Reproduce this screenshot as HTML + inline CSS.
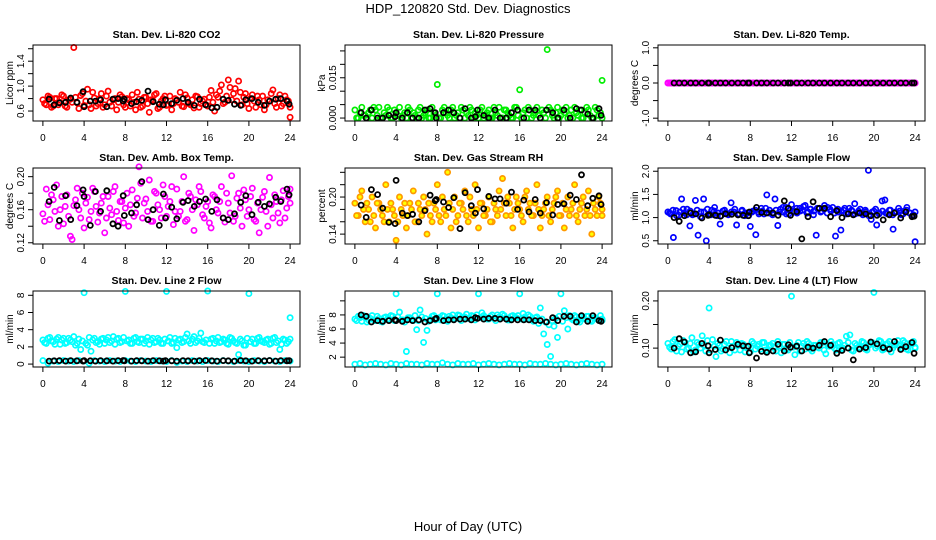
<!DOCTYPE html>
<html><head><meta charset="utf-8"><title>HDP_120820 Std. Dev. Diagnostics</title>
<style>
html,body{margin:0;padding:0;background:#fff;}
svg{display:block;font-family:"Liberation Sans",Arial,sans-serif;}
</style></head>
<body>
<svg id="chart" width="936" height="540" viewBox="0 0 936 540" xmlns="http://www.w3.org/2000/svg">
<text x="468" y="13" font-size="13" text-anchor="middle">HDP_120820  Std. Dev. Diagnostics</text>
<text x="468" y="531" font-size="13" text-anchor="middle">Hour of Day (UTC)</text>
</svg>
<script>
// ---- data ----
const blackHours = [0.6,1.1,1.6,2.2,2.7,3.3,3.9,4.0,4.6,5.1,5.6,6.2,6.8,7.3,7.8,7.9,8.6,9.1,9.6,10.2,10.7,11.3,11.7,11.9,12.5,13.0,13.6,14.1,14.7,15.2,15.8,16.4,16.9,17.5,18.0,18.6,19.2,19.7,20.3,20.9,21.5,22.0,22.6,23.1,23.7,23.9];
const xTicks = [0,4,8,12,16,20,24];

const co2Vals = [0.78,0.70,0.82,0.68,0.80,0.74,0.84,0.66,0.79,1.62,0.73,0.85,0.69,0.95,0.64,0.81,0.72,0.88,0.70,0.92,0.68,0.80,0.74,0.83,0.66,0.78,0.86,0.62,0.79,0.68,0.82,0.58,0.77,0.88,0.66,0.80,0.69,0.84,0.72,0.78,0.90,0.67,0.81,0.70,0.65,0.83,0.72,0.79,0.68,0.93,0.60,0.82,1.02,0.74,1.10,0.78,0.96,1.08,0.70,0.88,0.64,0.86,0.66,0.78,0.84,0.70,0.76,0.94,0.66,0.86,0.72,0.78,0.50];
const co2ValsB = [0.72,0.84,0.66,0.80,0.70,0.86,0.68,0.78,0.74,0.82,0.64,0.88,0.76,0.70,0.90,0.68,0.80,0.66,0.84,0.74,0.78,0.62,0.86,0.70,0.80,0.68,0.74,0.90,0.66,0.82,0.72,0.78,0.86,0.64,0.76,0.84,0.70,0.62,0.80,0.74,0.68,0.86,0.72,0.78,0.84,0.66,0.76,0.70,0.82,0.74,0.86,0.92,0.72,0.84,0.98,0.88,0.76,0.90,0.82,0.72,0.80,0.76,0.84,0.70,0.62,0.78,0.88,0.72,0.80,0.68,0.84,0.76,0.66];
const co2Black = [0.79,0.70,0.73,0.74,0.81,0.74,0.91,0.67,0.76,0.76,0.78,0.67,0.79,0.80,0.76,0.79,0.72,0.75,0.77,0.92,0.75,0.71,0.70,0.78,0.72,0.77,0.80,0.74,0.69,0.79,0.70,0.65,0.66,0.79,0.77,0.71,0.69,0.78,0.80,0.74,0.69,0.76,0.79,0.80,0.76,0.71];
const co2Ticks = [0.6,0.8,1.0,1.2,1.4,1.6];
const co2Labels = ["0.6","","1.0","","1.4",""];

const presVals = [0.003,0,0.004,0.001,0.002,0,0.003,0.004,0,0.001,0.003,0,0.002,0.004,0.001,0,0.003,0.002,0,0.004,0.001,0.003,0,0.002,0.0125,0,0.004,0.001,0.003,0,0.002,0.004,0,0.001,0.003,0.002,0,0.004,0.001,0.003,0,0.002,0.004,0,0.003,0.001,0,0.004,0.0105,0.002,0,0.003,0.001,0.004,0,0.002,0.0255,0.003,0,0.004,0.001,0.002,0,0.003,0.004,0.001,0,0.002,0.003,0,0.004,0.001,0.014];
const presValsB = [0,0.002,0.001,0,0.003,0.004,0.001,0,0.002,0.004,0,0.003,0.001,0,0.002,0.004,0,0.001,0.003,0,0.002,0,0.004,0.001,0,0.003,0.002,0,0.004,0.001,0,0.003,0.002,0.004,0,0.001,0.003,0,0.002,0,0.004,0.001,0,0.003,0.002,0,0.004,0.001,0,0.003,0.004,0,0.002,0.001,0.003,0,0.004,0.001,0.002,0,0.003,0.004,0.001,0,0.002,0.003,0,0.004,0.001,0,0.003,0.002,0];
const presBlack = [0.002,0,0.003,0,0,0.001,0.0005,0.002,0,0.002,0,0,0.003,0.0035,0.002,0,0.002,0.003,0.002,0,0.0035,0,0.0005,0.003,0.001,0,0.003,0,0,0.002,0.003,0,0.003,0.003,0,0.003,0.002,0,0.003,0,0.0035,0.003,0.0015,0,0.0035,0.001];
const presTicks = [0,0.005,0.010,0.015,0.020,0.025];
const presLabels = ["0.000","","","0.015","",""];

const tempVals = [0,0,0,0,0,0,0,0,0,0,0,0,0,0,0,0,0,0,0,0,0,0,0,0,0,0,0,0,0,0,0,0,0,0,0,0,0,0,0,0,0,0,0,0,0,0,0,0,0,0,0,0,0,0,0,0,0,0,0,0,0,0,0,0,0,0,0,0,0,0,0,0,0];
const tempValsB = [0,0,0,0,0,0,0,0,0,0,0,0,0,0,0,0,0,0,0,0,0,0,0,0,0,0,0,0,0,0,0,0,0,0,0,0,0,0,0,0,0,0,0,0,0,0,0,0,0,0,0,0,0,0,0,0,0,0,0,0,0,0,0,0,0,0,0,0,0,0,0,0];
const tempBlack = [0,0,0,0,0,0,0,0,0,0,0,0,0,0,0,0,0,0,0,0,0,0,0,0,0,0,0,0,0,0,0,0,0,0,0,0,0,0,0,0,0,0,0,0,0,0];
const tempTicks = [-1,-0.5,0,0.5,1];
const tempLabels = ["-1.0","","0.0","","1.0"];

const ambVals = [0.155,0.185,0.148,0.172,0.190,0.160,0.143,0.178,0.128,0.165,0.186,0.150,0.138,0.175,0.158,0.182,0.145,0.168,0.132,0.176,0.154,0.188,0.147,0.170,0.162,0.140,0.184,0.156,0.212,0.150,0.173,0.196,0.146,0.180,0.160,0.190,0.152,0.170,0.142,0.185,0.158,0.200,0.148,0.176,0.135,0.166,0.182,0.150,0.170,0.138,0.176,0.156,0.188,0.145,0.168,0.201,0.152,0.180,0.140,0.172,0.160,0.186,0.146,0.132,0.175,0.158,0.199,0.150,0.170,0.144,0.183,0.162,0.185];
const ambValsB = [0.146,0.166,0.178,0.158,0.140,0.176,0.164,0.152,0.124,0.172,0.160,0.180,0.168,0.148,0.186,0.164,0.156,0.176,0.150,0.162,0.182,0.158,0.170,0.144,0.180,0.166,0.152,0.174,0.192,0.168,0.158,0.146,0.182,0.166,0.150,0.176,0.164,0.188,0.158,0.152,0.170,0.146,0.180,0.160,0.172,0.188,0.154,0.164,0.144,0.178,0.160,0.170,0.150,0.180,0.156,0.146,0.174,0.162,0.184,0.152,0.176,0.148,0.168,0.160,0.182,0.140,0.166,0.178,0.156,0.172,0.150,0.176,0.168];
const ambBlack = [0.170,0.187,0.147,0.177,0.148,0.165,0.184,0.176,0.141,0.182,0.158,0.183,0.143,0.140,0.177,0.153,0.156,0.166,0.194,0.148,0.160,0.141,0.179,0.150,0.163,0.149,0.169,0.171,0.164,0.170,0.173,0.158,0.172,0.150,0.148,0.155,0.169,0.177,0.154,0.169,0.164,0.167,0.175,0.170,0.185,0.178];
const ambTicks = [0.12,0.14,0.16,0.18,0.20];
const ambLabels = ["0.12","","0.16","","0.20"];

const rhVals = [0.19,0.17,0.21,0.16,0.18,0.20,0.15,0.19,0.17,0.22,0.16,0.18,0.13,0.20,0.17,0.15,0.19,0.21,0.16,0.18,0.20,0.14,0.17,0.19,0.22,0.16,0.18,0.24,0.15,0.20,0.17,0.19,0.21,0.16,0.18,0.22,0.15,0.19,0.17,0.20,0.16,0.18,0.21,0.23,0.17,0.19,0.15,0.20,0.18,0.16,0.21,0.19,0.17,0.22,0.15,0.18,0.20,0.16,0.19,0.21,0.17,0.15,0.20,0.18,0.22,0.16,0.19,0.17,0.21,0.14,0.18,0.20,0.17];
const rhValsB = [0.17,0.20,0.18,0.19,0.16,0.17,0.19,0.18,0.16,0.18,0.19,0.17,0.16,0.18,0.19,0.17,0.18,0.16,0.19,0.17,0.18,0.19,0.16,0.18,0.17,0.20,0.17,0.19,0.18,0.16,0.19,0.18,0.17,0.20,0.17,0.18,0.19,0.17,0.18,0.16,0.19,0.17,0.18,0.19,0.20,0.17,0.18,0.19,0.17,0.20,0.18,0.17,0.19,0.18,0.17,0.19,0.17,0.18,0.20,0.17,0.19,0.18,0.17,0.19,0.17,0.18,0.20,0.18,0.17,0.19,0.17,0.19,0.18];
const rhBlack = [0.187,0.167,0.212,0.204,0.182,0.159,0.157,0.227,0.174,0.170,0.172,0.160,0.178,0.203,0.194,0.196,0.192,0.183,0.199,0.149,0.207,0.186,0.174,0.212,0.181,0.201,0.197,0.197,0.190,0.208,0.180,0.195,0.176,0.196,0.174,0.191,0.171,0.188,0.189,0.203,0.196,0.236,0.186,0.198,0.202,0.188];
const rhTicks = [0.14,0.16,0.18,0.20,0.22,0.24];
const rhLabels = ["0.14","","","0.20","",""];

const sampleVals = [1.12,1.08,0.57,1.15,1.05,1.40,1.10,1.18,0.82,1.06,1.37,0.62,1.12,1.40,0.50,1.08,1.16,1.22,1.04,0.86,1.14,1.10,1.06,1.32,1.12,0.84,1.08,1.16,1.04,1.10,0.81,1.14,0.63,1.12,1.20,1.08,1.49,1.16,1.10,1.40,0.83,1.18,1.12,1.22,1.08,1.28,1.14,1.10,1.20,1.16,1.26,1.12,1.18,1.06,0.62,1.20,1.14,1.26,1.10,1.18,1.22,0.60,1.12,0.73,1.16,1.08,1.20,1.14,1.30,1.10,1.18,1.06,1.12,2.02,0.96,1.14,0.84,1.10,1.36,1.38,1.08,1.16,0.75,1.12,1.20,1.06,1.14,1.22,1.10,1.04,0.48];
const sampleValsB = [1.10,1.16,1.04,1.12,1.18,1.06,1.14,1.08,1.16,1.02,1.12,1.18,1.06,1.14,1.10,1.04,1.16,1.08,1.12,1.18,1.06,1.14,1.10,1.04,1.12,1.16,1.08,1.14,1.20,1.10,1.06,1.16,1.12,1.22,1.08,1.16,1.12,1.20,1.14,1.24,1.10,1.18,1.14,1.20,1.12,1.18,1.22,1.14,1.10,1.18,1.14,1.20,1.12,1.16,1.08,1.14,1.10,1.16,1.04,1.12,1.18,1.08,1.14,1.10,1.16,1.06,1.12,1.14,1.08,1.16,1.10,1.06,1.12];
const sampleBlack = [1.00,0.92,1.04,1.10,1.08,0.99,1.05,1.06,1.05,1.03,1.08,1.07,1.06,1.05,1.04,1.12,1.22,1.11,1.10,1.10,1.05,1.36,1.20,1.05,1.13,0.54,1.02,1.34,1.20,1.20,1.02,1.15,1.00,1.08,1.06,1.10,1.08,1.04,1.05,0.95,1.06,1.10,0.99,1.12,1.02,1.03];
const sampleTicks = [0.5,1.0,1.5,2.0];
const sampleLabels = ["0.5","1.0","1.5","2.0"];

const line2High = [2.8,2.4,3.1,2.6,2.9,2.3,3.0,2.5,2.8,3.2,2.4,1.7,8.3,2.2,1.5,3.0,2.6,2.9,2.4,3.1,2.7,2.3,3.0,2.6,8.45,2.8,2.4,3.1,2.5,2.9,2.7,2.3,3.0,2.6,2.8,2.4,8.45,3.1,2.5,1.9,2.9,2.6,3.5,2.4,3.2,2.7,3.6,2.5,8.5,2.9,2.4,3.1,2.6,2.8,2.3,3.0,2.5,1.1,2.7,2.2,8.2,2.9,2.4,3.1,2.6,2.8,2.3,3.0,2.5,1.7,2.9,2.4,5.4];
const line2HighB = [2.5,3.0,2.7,2.3,3.1,2.8,2.4,3.0,2.6,2.2,2.9,2.7,2.4,3.1,2.8,2.5,2.3,3.0,2.8,2.5,3.2,2.9,2.5,3.1,2.7,2.4,3.0,2.6,2.9,2.4,3.1,2.8,2.5,3.0,2.4,2.9,2.7,2.4,3.0,2.8,2.5,3.1,2.7,2.9,2.5,3.0,2.6,2.8,2.4,3.0,2.7,2.5,2.9,2.4,3.1,2.7,2.4,2.9,2.2,3.0,2.6,2.4,3.0,2.7,2.5,2.9,2.4,3.1,2.7,2.3,2.8,2.6,2.9];
const line2Low = [0.4,0.1,0.35,0.3,0.4,0.35,0.3,0.4,0.35,0.1,0.4,0.35,0.3,0.4,0.35,0.3,0.4,0.35,0.3,0.4,0.35,0.3,0.4,0.35,0.3,0.4,0.2,0.35,0.3,0.4,0.35,0.3,0.4,0.35,0.3,0.4,0.35,0.3,0.4,0.35,0.3,0.4,0.35,0.3,0.4,0.35,0.3,0.4,0.35];
const line2Black = [0.35,0.38,0.4,0.35,0.4,0.38,0.35,0.4,0.38,0.35,0.4,0.38,0.35,0.4,0.42,0.38,0.35,0.4,0.38,0.35,0.4,0.38,0.35,0.4,0.38,0.35,0.4,0.38,0.35,0.4,0.42,0.38,0.35,0.4,0.38,0.35,0.42,0.38,0.35,0.4,0.38,0.42,0.35,0.4,0.38,0.4];
const line2Ticks = [0,2,4,6,8];
const line2Labels = ["0","2","4","6","8"];

const line3High = [7.4,7.8,7.1,7.6,7.3,7.9,7.2,7.5,7.0,7.7,7.4,7.8,11.0,8.4,7.3,2.8,7.6,7.2,5.9,8.7,4.1,5.8,7.4,7.9,11.0,7.3,7.8,7.1,7.6,7.4,8.0,7.2,7.7,7.5,7.9,7.3,11.0,8.3,7.6,7.4,8.0,7.2,7.7,8.1,7.5,7.3,7.9,7.6,11.0,8.2,7.4,7.8,7.1,7.7,9.0,5.3,3.8,2.1,6.4,4.8,11.0,8.6,6.0,7.5,7.9,7.2,7.7,7.4,7.8,7.1,7.6,7.3,7.4];
const line3HighB = [7.2,7.6,7.9,7.0,7.5,7.3,7.8,7.1,7.6,7.4,7.9,7.2,7.7,7.3,7.0,7.6,7.4,7.9,7.2,7.7,7.5,7.1,7.8,7.3,7.6,7.9,7.4,7.8,8.0,7.5,7.9,7.6,8.1,7.5,7.8,8.0,7.6,7.9,7.4,7.8,7.5,8.0,7.6,7.9,7.3,7.8,7.6,7.9,7.4,7.7,8.0,7.3,7.6,6.8,7.4,7.0,6.6,7.2,7.5,7.8,7.1,7.6,7.9,7.3,7.7,7.0,7.5,7.8,7.2,7.6,7.4,7.9,7.2];
const line3Low = [1.0,1.1,0.9,1.0,1.1,1.0,0.9,1.1,1.0,0.9,1.1,1.0,1.0,0.9,1.1,1.0,1.0,1.2,1.0,0.9,1.1,1.0,1.0,1.1,0.9,1.0,1.1,1.0,0.9,1.0,1.1,1.0,1.0,0.9,1.1,1.0,1.0,1.1,1.0,0.9,1.0,1.1,1.0,0.9,1.0,1.1,1.0,0.9,1.0];
const line3Black = [8.0,7.8,7.0,7.2,7.1,7.2,7.3,7.2,7.1,7.3,7.2,7.3,7.0,7.2,7.4,7.5,7.2,7.3,7.3,7.4,7.4,7.3,7.6,7.5,7.4,7.5,7.5,7.4,7.4,7.3,7.3,7.3,7.3,7.2,7.2,7.0,7.6,7.2,7.8,7.8,7.0,7.9,7.1,7.9,7.2,7.1];
const line3Ticks = [2,4,6,8,10];
const line3Labels = ["2","4","6","8",""];

const line4Vals = [0.110,0.098,0.118,0.104,0.092,0.112,0.100,0.122,0.096,0.108,0.126,0.094,0.185,0.118,0.082,0.106,0.098,0.114,0.090,0.104,0.112,0.096,0.108,0.100,0.092,0.110,0.104,0.098,0.112,0.094,0.106,0.100,0.114,0.090,0.108,0.096,0.210,0.086,0.112,0.104,0.098,0.110,0.094,0.106,0.100,0.112,0.088,0.104,0.108,0.096,0.112,0.100,0.125,0.128,0.094,0.106,0.100,0.112,0.096,0.108,0.218,0.104,0.114,0.098,0.110,0.092,0.106,0.116,0.100,0.112,0.096,0.108,0.102];
const line4ValsB = [0.102,0.114,0.094,0.108,0.116,0.098,0.110,0.092,0.112,0.100,0.106,0.116,0.096,0.104,0.110,0.094,0.108,0.100,0.114,0.096,0.106,0.110,0.092,0.104,0.114,0.098,0.108,0.112,0.096,0.106,0.110,0.094,0.104,0.108,0.098,0.112,0.102,0.106,0.094,0.110,0.114,0.098,0.106,0.102,0.112,0.096,0.108,0.114,0.100,0.110,0.098,0.106,0.112,0.096,0.110,0.102,0.114,0.098,0.106,0.112,0.100,0.116,0.096,0.108,0.114,0.100,0.110,0.104,0.116,0.098,0.110,0.114,0.100];
const line4Black = [0.100,0.120,0.113,0.090,0.092,0.110,0.105,0.090,0.097,0.117,0.096,0.101,0.108,0.105,0.104,0.090,0.079,0.093,0.091,0.094,0.108,0.094,0.107,0.102,0.104,0.094,0.102,0.100,0.106,0.114,0.106,0.089,0.095,0.100,0.075,0.098,0.101,0.113,0.109,0.101,0.098,0.114,0.097,0.103,0.112,0.089];
const line4Ticks = [0.10,0.15,0.20];
const line4Labels = ["0.10","","0.20"];

// ---- layout ----
const colLeft = [33, 345, 658];
const rowTop = [45, 168, 291];
const boxW = 267, boxH = 76;
const NS = "http://www.w3.org/2000/svg";
const svg = document.getElementById('chart');

const panels = [
 {key:'co2', title:'Stan. Dev. Li-820 CO2', ylab:'Licor ppm', ylim:[0.44,1.66], ticks:co2Ticks, labels:co2Labels,
  series:[{vals:co2Vals,stroke:'#ff0000',fill:'none'},{vals:co2ValsB,stroke:'#ff0000',fill:'none'}], black:co2Black},
 {key:'pressure', title:'Stan. Dev. Li-820 Pressure', ylab:'kPa', ylim:[-0.0011,0.0272], ticks:presTicks, labels:presLabels,
  series:[{vals:presVals,stroke:'#00ee00',fill:'none'},{vals:presValsB,stroke:'#00ee00',fill:'none'}], black:presBlack},
 {key:'temp', title:'Stan. Dev. Li-820 Temp.', ylab:'degrees C', ylim:[-1.08,1.08], ticks:tempTicks, labels:tempLabels,
  series:[{vals:tempVals,stroke:'#ff00ff',fill:'none'},{vals:tempValsB,stroke:'#ff00ff',fill:'none'}], black:tempBlack},
 {key:'ambbox', title:'Stan. Dev. Amb. Box Temp.', ylab:'degrees C', ylim:[0.1185,0.2105], ticks:ambTicks, labels:ambLabels,
  series:[{vals:ambVals,stroke:'#ff00ff',fill:'none'},{vals:ambValsB,stroke:'#ff00ff',fill:'none'}], black:ambBlack},
 {key:'rh', title:'Stan. Dev. Gas Stream RH', ylab:'percent', ylim:[0.124,0.247], ticks:rhTicks, labels:rhLabels,
  series:[{vals:rhVals,stroke:'#ff9900',fill:'#ffff00'},{vals:rhValsB,stroke:'#ff9900',fill:'#ffff00'}], black:rhBlack},
 {key:'sample', title:'Stan. Dev. Sample Flow', ylab:'ml/min', ylim:[0.43,2.07], ticks:sampleTicks, labels:sampleLabels,
  series:[{vals:sampleVals,stroke:'#0000ff',fill:'none'},{vals:sampleValsB,stroke:'#0000ff',fill:'none'}], black:sampleBlack},
 {key:'line2', title:'Stan. Dev. Line 2 Flow', ylab:'ml/min', ylim:[-0.34,8.5], ticks:line2Ticks, labels:line2Labels,
  series:[{vals:line2High,stroke:'#00ffff',fill:'none'},{vals:line2HighB,stroke:'#00ffff',fill:'none'},{vals:line2Low,stroke:'#00ffff',fill:'none'}], black:line2Black},
 {key:'line3', title:'Stan. Dev. Line 3 Flow', ylab:'ml/min', ylim:[0.6,11.4], ticks:line3Ticks, labels:line3Labels,
  series:[{vals:line3High,stroke:'#00ffff',fill:'none'},{vals:line3HighB,stroke:'#00ffff',fill:'none'},{vals:line3Low,stroke:'#00ffff',fill:'none'}], black:line3Black},
 {key:'line4', title:'Stan. Dev. Line 4 (LT) Flow', ylab:'ml/min', ylim:[0.060,0.221], ticks:line4Ticks, labels:line4Labels,
  series:[{vals:line4Vals,stroke:'#00ffff',fill:'none'},{vals:line4ValsB,stroke:'#00ffff',fill:'none'}], black:line4Black}
];

function mk(tag, attrs, parent){
  const e = document.createElementNS(NS, tag);
  for (const k in attrs) e.setAttribute(k, attrs[k]);
  parent.appendChild(e);
  return e;
}

panels.forEach((p, idx) => {
  const L = colLeft[idx % 3], T = rowTop[Math.floor(idx / 3)];
  const xScale = h => L + (h + 0.96) / 25.92 * boxW;
  const yScale = v => T + boxH - (v - p.ylim[0]) / (p.ylim[1] - p.ylim[0]) * boxH;

  const g = mk('g', {}, svg);
  
  

  const title = mk('text', {x: L + boxW / 2, y: T - 7, 'font-size': 10.5, 'font-weight': 'bold', 'text-anchor': 'middle'}, g);
  
  
  title.textContent = p.title;

  const yl = mk('text', {x: 0, y: 0, 'font-size': 10, 'text-anchor': 'middle', transform: `translate(${L - 20},${T + boxH / 2}) rotate(-90)`}, g);
  
  
  yl.textContent = p.ylab;

  const pts = mk('g', {}, g);
  
  
  p.series.forEach((s, si) => {
    const n = s.vals.length;
    const off = si % 2 === 1 ? 12 / (n - 1) : 0;
    s.vals.forEach((v, i) => {
      const h = Math.min(24, (n > 1 ? i * 24 / (n - 1) : 0) + off);
      const c = mk('circle', {cx: xScale(h).toFixed(1), cy: yScale(v).toFixed(1), r: 2.6, fill: s.fill, stroke: s.stroke, 'stroke-width': 1.7}, pts);
      
      
    });
  });
  p.black.forEach((v, i) => {
    const c = mk('circle', {cx: xScale(blackHours[i]).toFixed(1), cy: yScale(v).toFixed(1), r: 2.5, fill: 'none', stroke: '#000', 'stroke-width': 1.8}, pts);
    
    
  });

  const box = mk('rect', {x: L, y: T, width: boxW, height: boxH, fill: 'none', stroke: '#000', 'stroke-width': 1}, g);
  
  

  const xa = mk('g', {}, g);
  
  
  xTicks.forEach(t => {
    const x = xScale(t);
    mk('line', {x1: x, x2: x, y1: T + boxH, y2: T + boxH + 5, stroke: '#000'}, xa);
    const tl = mk('text', {x: x, y: T + boxH + 20, 'font-size': 10, 'text-anchor': 'middle'}, xa);
    
    
    tl.textContent = t;
  });

  const ya = mk('g', {}, g);
  
  
  p.ticks.forEach((t, i) => {
    const y = yScale(t);
    mk('line', {x1: L - 5, x2: L, y1: y, y2: y, stroke: '#000'}, ya);
    if (p.labels[i]) {
      const tl = mk('text', {x: 0, y: 0, 'font-size': 10, 'text-anchor': 'middle', transform: `translate(${L - 9},${y}) rotate(-90)`}, ya);
      
      
      tl.textContent = p.labels[i];
    }
  });
});
</script>
</body></html>
